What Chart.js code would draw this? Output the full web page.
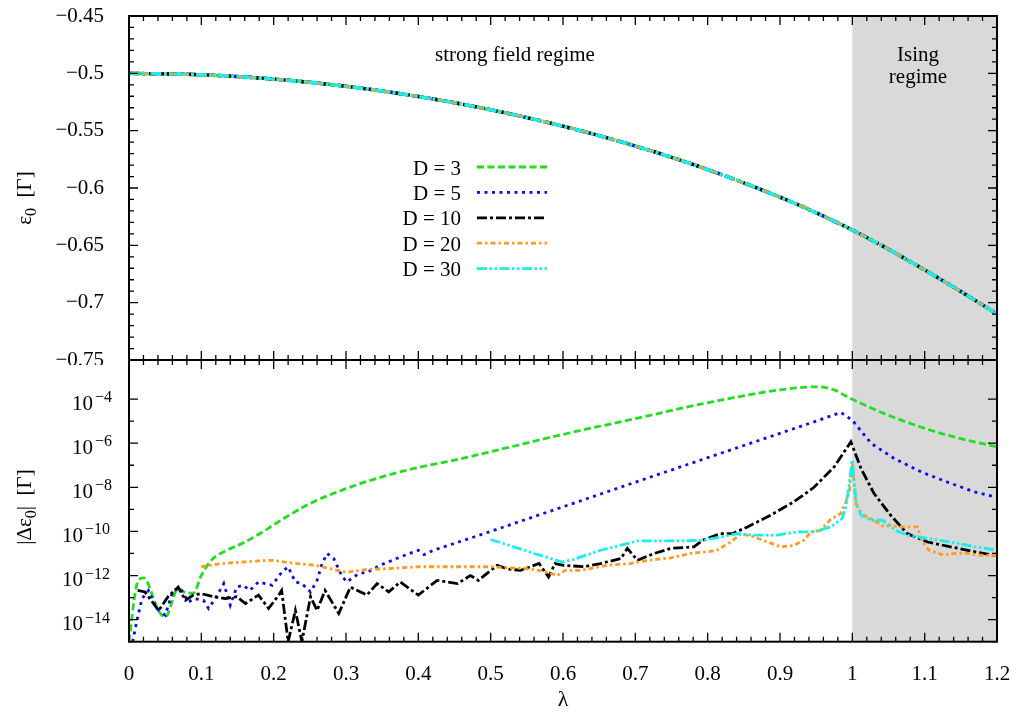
<!DOCTYPE html>
<html>
<head>
<meta charset="utf-8">
<title>Ground state energy and error</title>
<script src="https://cdn.jsdelivr.net/npm/chart.js@4.4.1/dist/chart.umd.min.js"></script>
<style>
  html, body { margin: 0; padding: 0; background: #fff; }
  #wrap { position: relative; width: 1018px; height: 715px; }
  #energyChart { position: absolute; left: 0; top: 0; }
  #errorChart { position: absolute; left: 0; top: 358px; }
</style>
</head>
<body>
<div id="wrap">
  <canvas id="energyChart" width="1018" height="365"></canvas>
  <canvas id="errorChart" width="1018" height="357"></canvas>
</div>
<script>
const SERIF = "'Liberation Serif', 'Times New Roman', serif";

// ========================
// DATA
// ========================
const seriesNames = ['D = 3', 'D = 5', 'D = 10', 'D = 20', 'D = 30'];

// ground state energy per site (same for every D on this scale)
const lambdaTop = [0, 0.1, 0.2, 0.3, 0.4, 0.5, 0.6, 0.7, 0.8, 0.9, 0.95, 1.0, 1.05, 1.1, 1.15, 1.2];
const energyTop = [-0.5, -0.50125, -0.50501, -0.51131, -0.52021, -0.53177, -0.54612, -0.56341,
                   -0.58390, -0.60800, -0.62163, -0.63662, -0.65343, -0.67143, -0.69029, -0.70981];

// |delta e0| for each bond dimension, pairs of [lambda, error]
const errD3 = [
  [0, 1.0e-15], [0.011, 4.0e-13], [0.02, 7.9e-13], [0.041, 2.5e-14], [0.05, 1.3e-14],
  [0.068, 2.5e-13], [0.08, 1.6e-13], [0.089, 1.6e-13], [0.1, 1.0e-12], [0.114, 5.0e-12],
  [0.133, 1.3e-11], [0.156, 2.8e-11], [0.188, 1.1e-10], [0.2, 2.0e-10], [0.25, 1.8e-9],
  [0.3, 8.7e-9], [0.357, 3.5e-8], [0.4, 7.9e-8], [0.45, 1.7e-7], [0.5, 4.1e-7],
  [0.6, 2.5e-6], [0.7, 1.3e-5], [0.8, 6.8e-5], [0.9, 2.6e-4], [0.952, 3.6e-4],
  [0.975, 2.6e-4], [0.989, 1.5e-4], [1.0, 9.8e-5], [1.044, 2.2e-5], [1.1, 4.7e-6],
  [1.15, 1.6e-6], [1.2, 6.8e-7]
];
const errD5 = [
  [0.005, 1.0e-15], [0.011, 9.3e-15], [0.018, 8.9e-14], [0.027, 2.1e-13], [0.038, 3.2e-14],
  [0.05, 1.6e-14], [0.061, 2.1e-13], [0.071, 2.6e-13], [0.082, 6.3e-14], [0.091, 8.9e-14],
  [0.103, 7.6e-14], [0.11, 3.2e-14], [0.119, 8.9e-14], [0.131, 4.3e-13], [0.14, 4.5e-14],
  [0.149, 3.0e-13], [0.158, 3.6e-13], [0.167, 2.1e-13], [0.179, 5.1e-13], [0.188, 4.3e-13],
  [0.198, 3.6e-13], [0.211, 1.4e-12], [0.22, 2.5e-12], [0.23, 5.1e-13], [0.239, 4.3e-13],
  [0.251, 1.8e-13], [0.26, 6.0e-13], [0.267, 3.5e-12], [0.274, 1.0e-11], [0.283, 5.9e-12],
  [0.294, 1.0e-12], [0.301, 5.1e-13], [0.317, 1.2e-12], [0.329, 1.4e-12], [0.347, 2.9e-12],
  [0.375, 6.9e-12], [0.4, 1.4e-11], [0.408, 8.9e-12], [0.421, 1.4e-11], [0.449, 2.8e-11],
  [0.477, 5.6e-11], [0.5, 1.0e-10], [0.6, 1.3e-9], [0.7, 1.7e-8], [0.8, 2.2e-7],
  [0.9, 2.8e-6], [0.95, 1.0e-5], [0.984, 2.5e-5], [1.0, 1.1e-5], [1.026, 9.8e-7],
  [1.058, 2.0e-7], [1.095, 5.0e-8], [1.136, 1.5e-8], [1.169, 6.2e-9], [1.2, 3.5e-9]
];
const errD10 = [
  [0.012, 2.1e-13], [0.022, 1.8e-13], [0.041, 2.6e-14], [0.054, 1.1e-13], [0.068, 3.0e-13],
  [0.078, 7.6e-14], [0.089, 1.3e-13], [0.1, 1.5e-13], [0.117, 1.1e-13], [0.133, 8.9e-14],
  [0.149, 1.1e-13], [0.161, 5.4e-14], [0.179, 1.3e-13], [0.193, 3.2e-14], [0.207, 1.3e-13],
  [0.211, 2.1e-13], [0.22, 1.0e-15], [0.23, 2.6e-14], [0.239, 1.0e-15], [0.251, 1.1e-13],
  [0.26, 2.6e-14], [0.271, 2.1e-13], [0.29, 1.9e-14], [0.306, 3.0e-13], [0.329, 1.3e-13],
  [0.343, 4.3e-13], [0.359, 1.8e-13], [0.375, 5.1e-13], [0.4, 1.3e-13], [0.426, 6.0e-13],
  [0.454, 4.3e-13], [0.472, 1.0e-12], [0.483, 6.0e-13], [0.5, 1.7e-12], [0.509, 2.9e-12],
  [0.523, 2.0e-12], [0.541, 1.7e-12], [0.567, 3.5e-12], [0.58, 8.5e-13], [0.589, 3.5e-12],
  [0.601, 2.9e-12], [0.629, 2.5e-12], [0.652, 3.5e-12], [0.68, 5.9e-12], [0.689, 1.7e-11],
  [0.703, 4.9e-12], [0.726, 1.0e-11], [0.749, 1.7e-11], [0.781, 2.0e-11], [0.793, 4.0e-11],
  [0.818, 7.9e-11], [0.834, 7.9e-11], [0.855, 1.6e-10], [0.887, 5.4e-10], [0.919, 2.2e-9],
  [0.947, 1.0e-8], [0.975, 8.5e-8], [0.998, 1.15e-6], [1.012, 7.1e-8], [1.03, 5.2e-9],
  [1.053, 5.4e-10], [1.076, 7.9e-11], [1.104, 3.3e-11], [1.136, 2.0e-11], [1.169, 1.2e-11],
  [1.2, 7.9e-12]
];
const errD20 = [
  [0.1, 2.5e-12], [0.128, 3.5e-12], [0.179, 4.6e-12], [0.198, 4.9e-12], [0.225, 3.7e-12],
  [0.257, 2.9e-12], [0.301, 1.4e-12], [0.329, 1.9e-12], [0.352, 2.0e-12], [0.4, 2.5e-12],
  [0.5, 2.5e-12], [0.555, 2.0e-12], [0.578, 1.4e-12], [0.592, 1.0e-12], [0.603, 1.7e-12],
  [0.624, 1.7e-12], [0.661, 2.9e-12], [0.693, 3.5e-12], [0.717, 4.9e-12], [0.749, 6.3e-12],
  [0.776, 1.0e-11], [0.8, 1.2e-11], [0.813, 1.4e-11], [0.832, 3.3e-11], [0.846, 7.9e-11],
  [0.864, 5.6e-11], [0.883, 3.3e-11], [0.901, 2.0e-11], [0.919, 2.3e-11], [0.933, 4.0e-11],
  [0.943, 9.5e-11], [0.956, 1.1e-10], [0.97, 3.5e-10], [0.984, 6.5e-10], [0.991, 2.2e-9],
  [0.996, 6.2e-9], [1.0, 1.2e-7], [1.005, 1.8e-9], [1.01, 9.1e-10], [1.016, 5.4e-10],
  [1.03, 3.2e-10], [1.044, 1.6e-10], [1.053, 1.9e-10], [1.067, 1.6e-10], [1.09, 1.6e-10],
  [1.097, 3.3e-11], [1.106, 1.4e-11], [1.127, 8.3e-12], [1.141, 1.0e-11], [1.159, 1.0e-11],
  [1.178, 8.3e-12], [1.2, 8.3e-12]
];
const errD30 = [
  [0.5, 4.3e-11], [0.532, 2.0e-11], [0.56, 1.0e-11], [0.599, 4.1e-12], [0.615, 5.4e-12],
  [0.652, 1.4e-11], [0.689, 2.8e-11], [0.703, 3.7e-11], [0.763, 3.7e-11], [0.795, 4.0e-11],
  [0.841, 7.9e-11], [0.864, 6.8e-11], [0.896, 6.8e-11], [0.924, 9.5e-11], [0.947, 9.5e-11],
  [0.97, 1.6e-10], [0.986, 3.8e-10], [0.991, 1.3e-9], [0.994, 5.2e-9], [1.0, 1.7e-7],
  [1.005, 2.2e-9], [1.012, 5.4e-10], [1.026, 3.2e-10], [1.042, 3.2e-10], [1.06, 1.1e-10],
  [1.076, 6.8e-11], [1.104, 4.8e-11], [1.136, 3.3e-11], [1.169, 2.0e-11], [1.2, 1.4e-11]
];

const lambdaTicks = [0, 0.1, 0.2, 0.3, 0.4, 0.5, 0.6, 0.7, 0.8, 0.9, 1.0, 1.1, 1.2];
const lambdaTickLabels = ['0', '0.1', '0.2', '0.3', '0.4', '0.5', '0.6', '0.7', '0.8', '0.9', '1', '1.1', '1.2'];
const energyTicks = [-0.75, -0.7, -0.65, -0.6, -0.55, -0.5, -0.45];
const energyTickLabels = ['\u22120.75', '\u22120.7', '\u22120.65', '\u22120.6', '\u22120.55', '\u22120.5', '\u22120.45'];
const errTickExponents = [-14, -12, -10, -8, -6, -4];
const errMinorExponents = [-15, -13, -11, -9, -7, -5];
const isingFrom = 1.0;

// ========================
// STYLES
// ========================
const lineStyles = [
  { color: '#1fdf1f', dash: [7, 3.5] },
  { color: '#0d0de8', dash: [3, 4.5] },
  { color: '#000000', dash: [10, 3, 3, 3] },
  { color: '#ff9b1c', dash: [5, 3, 2.5, 3] },
  { color: '#18eeee', dash: [10, 2.5, 2.5, 2.5, 2.5, 2.5] }
];

function makeDataset(i, points, smooth, width) {
  return {
    label: seriesNames[i],
    data: points.map(p => ({ x: p[0], y: p[1] })),
    borderColor: lineStyles[i].color,
    borderDash: lineStyles[i].dash,
    borderWidth: width || 2.8,
    pointRadius: 0,
    fill: false,
    tension: 0,
    cubicInterpolationMode: smooth ? 'monotone' : 'default',
    order: 5 - i   // D = 30 ends up on top
  };
}

// writes text pieces one after another (used for sub/superscripts)
function drawPieces(ctx, pieces, x, y, align) {
  let total = 0;
  for (const p of pieces) {
    ctx.font = p.size + 'px ' + SERIF;
    p.w = ctx.measureText(p.text).width + (p.gap || 0);
    total += p.w;
  }
  let cx = x;
  if (align === 'center') cx = x - total / 2;
  if (align === 'right') cx = x - total;
  ctx.textAlign = 'left';
  for (const p of pieces) {
    ctx.font = p.size + 'px ' + SERIF;
    ctx.fillText(p.text, cx + (p.gap || 0), y + (p.dy || 0));
    cx += p.w;
  }
}

function drawVerticalTitle(ctx, pieces, cx, cy) {
  ctx.save();
  ctx.translate(cx, cy);
  ctx.rotate(-Math.PI / 2);
  ctx.textBaseline = 'alphabetic';
  drawPieces(ctx, pieces, 0, 7, 'center');
  ctx.restore();
}

// ========================
// PLUGINS
// ========================
const isingShade = {
  id: 'isingShade',
  beforeDatasetsDraw(chart) {
    const { ctx, chartArea: a, scales } = chart;
    const x0 = scales.x.getPixelForValue(isingFrom);
    ctx.save();
    ctx.fillStyle = '#d9d9d9';
    ctx.fillRect(x0, a.top, a.right - x0, a.bottom - a.top);
    ctx.restore();
  }
};

// border with inward tics on all four sides
const framePlugin = {
  id: 'frame',
  afterDatasetsDraw(chart, args, opts) {
    const { ctx, chartArea: a, scales } = chart;
    ctx.save();
    ctx.strokeStyle = '#000';
    ctx.lineWidth = 1.3;
    ctx.beginPath();
    for (let k = 0; k <= 60; k++) {
      const px = scales.x.getPixelForValue(k * 0.02);
      const len = k % 5 === 0 ? 9 : 5;
      ctx.moveTo(px, a.bottom); ctx.lineTo(px, a.bottom - len);
      ctx.moveTo(px, a.top); ctx.lineTo(px, a.top + len);
    }
    const yTic = (v, len) => {
      const py = scales.y.getPixelForValue(v);
      ctx.moveTo(a.left, py); ctx.lineTo(a.left + len, py);
      ctx.moveTo(a.right, py); ctx.lineTo(a.right - len, py);
    };
    opts.yMajor.forEach(v => yTic(v, 9));
    opts.yMinor.forEach(v => yTic(v, 5));
    ctx.stroke();
    ctx.lineWidth = 2;
    ctx.strokeRect(a.left, a.top, a.right - a.left, a.bottom - a.top);
    ctx.restore();
  }
};

const topText = {
  id: 'topText',
  afterDraw(chart) {
    const ctx = chart.ctx;
    ctx.save();
    ctx.fillStyle = '#000';
    ctx.textBaseline = 'alphabetic';
    ctx.textAlign = 'center';
    ctx.font = '21px ' + SERIF;
    ctx.fillText('strong field regime', 515, 61);
    ctx.fillText('Ising', 918, 61);
    ctx.fillText('regime', 918, 83);

    // key
    chart.data.datasets.forEach((ds, i) => {
      const y = 167 + i * 25.4;
      ctx.textAlign = 'right';
      ctx.fillStyle = '#000';
      ctx.font = '21px ' + SERIF;
      ctx.fillText(ds.label, 461, y + 7.5);
      ctx.beginPath();
      ctx.setLineDash(ds.borderDash);
      ctx.strokeStyle = ds.borderColor;
      ctx.lineWidth = 2.8;
      ctx.moveTo(477, y);
      ctx.lineTo(547, y);
      ctx.stroke();
    });
    ctx.setLineDash([]);

    ctx.fillStyle = '#000';
    drawVerticalTitle(ctx, [
      { text: '\u03b5', size: 21 },
      { text: '0', size: 16, dy: 5 },
      { text: '  [\u0393]', size: 21 }
    ], 24, 198);
    ctx.restore();
  }
};

const bottomText = {
  id: 'bottomText',
  afterDraw(chart) {
    const ctx = chart.ctx;
    const yScale = chart.scales.y;
    ctx.save();
    ctx.fillStyle = '#000';
    ctx.textBaseline = 'alphabetic';
    errTickExponents.forEach(e => {
      const py = yScale.getPixelForValue(Math.pow(10, e));
      const sup = '\u2212' + Math.abs(e);
      const x0 = sup.length > 2 ? 62 : 72;
      drawPieces(ctx, [
        { text: '10', size: 21, dy: 10.5 },
        { text: sup, size: 16, dy: 3, gap: 2 }
      ], x0, py, 'left');
    });

    drawVerticalTitle(ctx, [
      { text: '|\u0394\u03b5', size: 21 },
      { text: '0', size: 16, dy: 5 },
      { text: '|  [\u0393]', size: 21 }
    ], 24, 149);

    ctx.font = '22px ' + SERIF;
    ctx.textAlign = 'center';
    ctx.textBaseline = 'middle';
    ctx.fillText('\u03bb', 563, 342);
    ctx.restore();
  }
};

// ========================
// TOP PANEL: ENERGY
// ========================
function drawEnergyPanel() {
  const points = lambdaTop.map((l, k) => [l, energyTop[k]]);
  const sets = seriesNames.map((n, i) => makeDataset(i, points, true, 3.4));

  const minor = [];
  for (let k = 0; k <= 30; k++) minor.push(-0.75 + k * 0.01);

  new Chart(document.getElementById('energyChart'), {
    type: 'line',
    data: { datasets: sets },
    options: {
      responsive: false,
      animation: false,
      layout: { padding: { left: 0, right: 21, top: 16, bottom: 5 } },
      plugins: {
        legend: { display: false },
        tooltip: { enabled: false },
        frame: { yMajor: energyTicks, yMinor: minor }
      },
      scales: {
        x: { type: 'linear', min: 0, max: 1.2, display: false },
        y: {
          type: 'linear', min: -0.75, max: -0.45,
          afterBuildTicks: s => { s.ticks = energyTicks.map(v => ({ value: v })); },
          afterFit: s => { s.width = 129; s.paddingTop = 0; s.paddingBottom = 0; },
          grid: { display: false },
          border: { display: false },
          ticks: {
            callback: (v, i) => energyTickLabels[i],
            color: '#000', padding: 17,
            font: { family: SERIF, size: 21 }
          }
        }
      }
    },
    plugins: [isingShade, framePlugin, topText]
  });
}

// ========================
// BOTTOM PANEL: ERROR
// ========================
function drawErrorPanel() {
  const sets = [
    makeDataset(0, errD3, true),
    makeDataset(1, errD5, false),
    makeDataset(2, errD10, false),
    makeDataset(3, errD20, false),
    makeDataset(4, errD30, false)
  ];

  new Chart(document.getElementById('errorChart'), {
    type: 'line',
    data: { datasets: sets },
    options: {
      responsive: false,
      animation: false,
      layout: { padding: { left: 0, right: 21, top: 2, bottom: 0 } },
      plugins: {
        legend: { display: false },
        tooltip: { enabled: false },
        frame: {
          yMajor: errTickExponents.map(e => Math.pow(10, e)),
          yMinor: errMinorExponents.map(e => Math.pow(10, e))
        }
      },
      scales: {
        x: {
          type: 'linear', min: 0, max: 1.2,
          afterBuildTicks: s => { s.ticks = lambdaTicks.map(v => ({ value: v })); },
          afterFit: s => { s.height = 73.3; s.paddingLeft = 0; s.paddingRight = 0; },
          grid: { display: false },
          border: { display: false },
          ticks: {
            callback: (v, i) => lambdaTickLabels[i],
            autoSkip: false, maxRotation: 0,
            color: '#000', padding: 12,
            font: { family: SERIF, size: 21 }
          }
        },
        y: {
          type: 'logarithmic', min: 1e-15, max: 5.9e-3,
          afterFit: s => { s.width = 129; s.paddingTop = 0; s.paddingBottom = 0; },
          grid: { display: false },
          border: { display: false },
          ticks: { display: false }
        }
      }
    },
    plugins: [isingShade, framePlugin, bottomText]
  });
}

drawEnergyPanel();
drawErrorPanel();
</script>
</body>
</html>
